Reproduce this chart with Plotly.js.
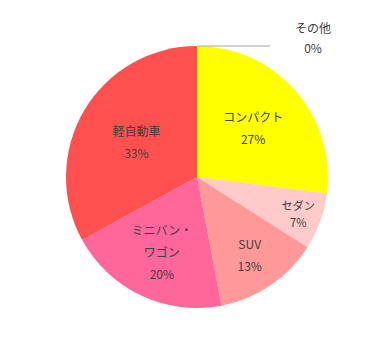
<!DOCTYPE html>
<html><head><meta charset="utf-8">
<script src="https://cdn.plot.ly/plotly-3.0.1.min.js"></script>
<style>html,body{margin:0;padding:0;background:#fff}#chart{width:378px;height:351px}</style>
</head><body><div id="chart"></div>
<script>
const categories = ["その他", "コンパクト", "セダン", "SUV", "ミニバン・ワゴン", "軽自動車"];
const displayLabels = [["その他"], ["コンパクト"], ["セダン"], ["SUV"], ["ミニバン・", "ワゴン"], ["軽自動車"]];
const shares = [0, 27, 7, 13, 20, 33];
const colors = ["#A5A5A5", "#FFFF00", "#FFCACA", "#FF9999", "#FF6699", "#FF5050"];

const FONT = "Noto Sans CJK JP, sans-serif";
const sp = s => "<span style='font-size:12px'>" + s + "</span>";

const idx = shares.map((v,i)=>i).filter(i=>shares[i]>0);
const zeroIdx = shares.map((v,i)=>i).filter(i=>shares[i]===0);

const trace = {
  type: "pie",
  values: idx.map(i=>shares[i]),
  labels: idx.map(i=>categories[i]),
  text: idx.map(i=>displayLabels[i].map(sp).join("<br>")),
  customdata: idx.map(i=>sp(shares[i] + "%")),
  marker: {colors: idx.map(i=>colors[i]), line: {width: 0}},
  sort: false,
  direction: "clockwise",
  rotation: 0,
  texttemplate: "%{text}<br>%{customdata}",
  textposition: "inside",
  insidetextorientation: "horizontal",
  textfont: {family: FONT, size: idx.map(i => shares[i] < 10 ? 14 : 17), color: "#404040"},
  domain: {x: [66/378, 328/378], y: [(351-308)/351, (351-46)/351]},
  hoverinfo: "none"
};

const annotations = zeroIdx.map(i => ({
  xref: "paper", yref: "paper", x: 313/378, y: (351-38)/351,
  xanchor: "center", yanchor: "middle",
  text: displayLabels[i].map(sp).join("<br>") + "<br>" + sp(shares[i] + "%"),
  showarrow: false, font: {family: FONT, size: 15.5, color: "#404040"}
}));

const layout = {
  width: 378, height: 351,
  margin: {l: 0, r: 0, t: 0, b: 0},
  paper_bgcolor: "#fff",
  showlegend: false,
  annotations: annotations,
  shapes: [{type: "line", xref: "paper", yref: "paper", x0: 197/378, x1: 270/378, y0: (351-46)/351, y1: (351-46)/351, line: {color: "#A5A5A5", width: 1}}]
};
Plotly.newPlot("chart", [trace], layout, {displayModeBar: false, staticPlot: true});
</script></body></html>
